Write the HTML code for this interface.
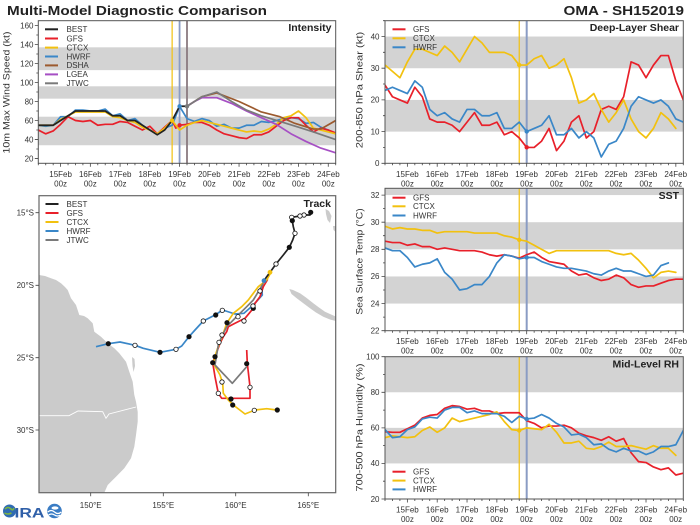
<!DOCTYPE html>
<html><head><meta charset="utf-8"><style>
html,body{margin:0;padding:0;background:#fff;}
svg{display:block;font-family:"Liberation Sans","DejaVu Sans",sans-serif;}
.d polyline{vector-effect:non-scaling-stroke;fill:none;stroke-width:1.7;stroke-linejoin:round;stroke-linecap:round;}
.tk{vector-effect:non-scaling-stroke;stroke:#444;stroke-width:0.8;fill:none;}
.t{font-size:8px;fill:#333;}
.lg{font-size:8px;fill:#333;}
.pt{font-size:10.5px;font-weight:bold;fill:#222;}
.fr{fill:none;stroke:#555;stroke-width:1;}
.band{fill:#d3d3d3;}
</style></head><body>
<svg width="700" height="525" viewBox="0 0 700 525" xmlns="http://www.w3.org/2000/svg">
<defs>
<path id="xt" class="tk" d="M0 0V2M1 0V2M2 0V2M4 0V2M5 0V2M6 0V2M8 0V2M9 0V2M10 0V2M12 0V2M13 0V2M14 0V2M16 0V2M17 0V2M18 0V2M20 0V2M21 0V2M22 0V2M24 0V2M25 0V2M26 0V2M28 0V2M29 0V2M30 0V2M32 0V2M33 0V2M34 0V2M36 0V2M37 0V2M38 0V2M40 0V2M3 0V3.5M7 0V3.5M11 0V3.5M15 0V3.5M19 0V3.5M23 0V3.5M27 0V3.5M31 0V3.5M35 0V3.5M39 0V3.5"/>
</defs>

<!-- Titles -->
<text x="7" y="15" font-size="13" font-weight="bold" fill="#222" textLength="260" lengthAdjust="spacingAndGlyphs">Multi-Model Diagnostic Comparison</text>
<text x="563.5" y="15" font-size="13" font-weight="bold" fill="#222" textLength="120.5" lengthAdjust="spacingAndGlyphs">OMA - SH152019</text>

<!-- ================= INTENSITY ================= -->
<svg class="d" x="38.3" y="20.7" width="297.4" height="142.6" viewBox="0 -165 40 150" preserveAspectRatio="none">
<rect class="band" x="0" y="-64" width="40" height="30"/>
<rect class="band" x="0" y="-96" width="40" height="13"/>
<rect class="band" x="0" y="-137" width="40" height="24"/>
<polyline stroke="#f2c10f" points="18,-165 18,-15" style="stroke-width:1.2"/>
<polyline stroke="#8a9cc4" points="19,-165 19,-15" style="stroke-width:1.8"/>
<polyline stroke="#8a7a80" points="20,-165 20,-15" style="stroke-width:1.8"/>
<polyline stroke="#3a87c8" points="0,-55 1,-54 2,-55 3,-64 4,-64 5,-71 6,-71 7,-70 8,-70 9,-72 10,-65 11,-67 12,-60 13,-62 14,-55 15,-50 16,-46 17,-52 18,-55 19,-75 20,-62 21,-59 22,-62 23,-60 24,-54 25,-56 26,-52 27,-52 28,-55 29,-55 30,-59 31,-58 32,-60 33,-62 34,-63 35,-62 36,-57 37,-58 38,-53 39,-50 40,-46"/>
<polyline stroke="#e8202a" points="0,-50 1,-46 2,-49 3,-56 4,-64 5,-60 6,-59 7,-60 8,-55 9,-56 10,-56 11,-59 12,-58 13,-54 14,-50 15,-54 16,-46 17,-53 18,-60 18.5,-52 19,-55 20,-56 21,-58 22,-58 23,-55 24,-50 25,-46 26,-44 27,-42 28,-41 29,-45 30,-45 31,-48 32,-54 33,-60 34,-63 35,-63 36,-55 37,-48 38,-52 39,-50 40,-47"/>
<polyline stroke="#f2c10f" points="0,-55 1,-55 2,-55 3,-61 4,-65 5,-69 6,-69 7,-69 8,-69 9,-69 10,-64 11,-63 12,-60 13,-58 14,-53 15,-50 16,-46 17,-52 18,-60 19,-50 20,-55 21,-58 22,-60 23,-58 24,-56 25,-54 26,-52 27,-50 28,-48 29,-49 30,-48 31,-51 32,-56 33,-63 34,-65 35,-70 36,-63 37,-52 38,-50 39,-48 40,-46"/>
<polyline stroke="#9c5a2e" points="20,-75 21,-80 22,-85 23,-87 24,-89 27,-80 30,-69 32.5,-64 34.5,-57 37,-51 38,-51 40,-60"/>
<polyline stroke="#a64fc4" points="20,-75 21,-80 22,-84 24,-84 26,-78 28,-70 30,-63 32,-56 34,-46 36,-38 38,-31 40,-26"/>
<polyline stroke="#7a7a7a" points="20,-75 21,-80 22,-85 23,-87.5 24,-90 26,-80 28,-71 30,-65 32.5,-59 35,-53 37,-48 40,-40"/>
<polyline stroke="#222" points="0,-55 1,-55 2,-55 3,-60 4,-65 5,-70 6,-70 7,-70 8,-70 9,-70 10,-65 11,-65 12,-60 13,-60 14,-55 15,-50 16,-45 17,-50 18,-60 19,-75 20,-75"/>
</svg>
<circle cx="172.1" cy="120.5" r="2.2" fill="#f2c10f"/>
<circle cx="179.6" cy="125.3" r="2.2" fill="#e8202a"/>
<circle cx="179.6" cy="106.3" r="2.2" fill="#3a87c8"/>
<circle cx="187" cy="106.3" r="2.2" fill="#7a7a7a"/>
<rect class="fr" x="38.3" y="20.7" width="297.4" height="142.6"/>
<svg x="38.3" y="163.3" width="297.4" height="4" viewBox="0 0 40 4" preserveAspectRatio="none" overflow="visible"><use href="#xt"/></svg>
<path class="tk" d="M38.3 158.55h-3.5M38.3 139.54h-3.5M38.3 120.52h-3.5M38.3 101.5h-3.5M38.3 82.5h-3.5M38.3 63.5h-3.5M38.3 44.5h-3.5M38.3 25.5h-3.5M38.3 149h-2M38.3 130h-2M38.3 111h-2M38.3 92h-2M38.3 73h-2M38.3 54h-2M38.3 35h-2"/>
<g class="t" text-anchor="end">
<text x="33.5" y="161.3">20</text><text x="33.5" y="142.3">40</text><text x="33.5" y="123.3">60</text><text x="33.5" y="104.3">80</text><text x="33.5" y="85.3">100</text><text x="33.5" y="66.3">120</text><text x="33.5" y="47.3">140</text><text x="33.5" y="28.3">160</text>
</g>
<g class="t" text-anchor="middle">
<text x="60.6" y="177">15Feb</text><text x="90.3" y="177">16Feb</text><text x="120.1" y="177">17Feb</text><text x="149.8" y="177">18Feb</text><text x="179.6" y="177">19Feb</text><text x="209.3" y="177">20Feb</text><text x="239.1" y="177">21Feb</text><text x="268.8" y="177">22Feb</text><text x="298.5" y="177">23Feb</text><text x="328.3" y="177">24Feb</text>
<text x="60.6" y="186.5">00z</text><text x="90.3" y="186.5">00z</text><text x="120.1" y="186.5">00z</text><text x="149.8" y="186.5">00z</text><text x="179.6" y="186.5">00z</text><text x="209.3" y="186.5">00z</text><text x="239.1" y="186.5">00z</text><text x="268.8" y="186.5">00z</text><text x="298.5" y="186.5">00z</text><text x="328.3" y="186.5">00z</text>
</g>
<text transform="translate(9.5,92.5) rotate(-90)" text-anchor="middle" font-size="9" fill="#333" textLength="122" lengthAdjust="spacingAndGlyphs">10m Max Wind Speed (kt)</text>
<text x="331.5" y="31" class="pt" text-anchor="end">Intensity</text>
<g stroke-width="2">
<line x1="45" y1="29.3" x2="58" y2="29.3" stroke="#222"/>
<line x1="45" y1="38.5" x2="58" y2="38.5" stroke="#e8202a"/>
<line x1="45" y1="47.6" x2="58" y2="47.6" stroke="#f2c10f"/>
<line x1="45" y1="56.5" x2="58" y2="56.5" stroke="#3a87c8"/>
<line x1="45" y1="65.4" x2="58" y2="65.4" stroke="#9c5a2e"/>
<line x1="45" y1="74.4" x2="58" y2="74.4" stroke="#a64fc4"/>
<line x1="45" y1="83.3" x2="58" y2="83.3" stroke="#7a7a7a"/>
</g>
<g class="lg">
<text x="66.5" y="32.1">BEST</text><text x="66.5" y="41.3">GFS</text><text x="66.5" y="50.4">CTCX</text><text x="66.5" y="59.3">HWRF</text><text x="66.5" y="68.2">DSHA</text><text x="66.5" y="77.2">LGEA</text><text x="66.5" y="86.1">JTWC</text>
</g>

<!-- ================= SHEAR ================= -->
<svg class="d" x="385" y="20.7" width="298.3" height="142.6" viewBox="0 -45 40 45" preserveAspectRatio="none">
<rect class="band" x="0" y="-20" width="40" height="10"/>
<rect class="band" x="0" y="-40" width="40" height="10"/>
<polyline stroke="#f2c10f" points="18,-45 18,0" style="stroke-width:1.2"/>
<polyline stroke="#8a9cc4" points="19,-45 19,0" style="stroke-width:2"/>
<polyline stroke="#e8202a" points="0,-24.7 1,-21 2,-20 3,-19 4,-24 5,-21 6,-14 7,-13 8,-13 9,-12 10,-10 11,-13 12,-16 13,-12 14,-12 15,-13 16,-9 17,-10 18,-8 19,-5 20,-5 21,-7 22,-11 23,-4 24,-7 25,-13 26,-15 27,-8 28,-10 29,-17 30,-18 31,-17 32,-21 33,-32 34,-31 35,-27 36,-31 37,-34 38,-34 39,-26 40,-20"/>
<polyline stroke="#f2c10f" points="0,-31 1,-29 2,-27 3,-32 4,-36 5,-36 6,-35 7,-34 8,-37 9,-35 10,-32 11,-36 12,-40 13,-38 14,-35 15,-35 16,-35 17,-34 18,-31 19,-31 20,-33 21,-34 22,-30 23,-31 24,-33 25,-27 26,-19 27,-20 28,-22 29,-17 30,-13 31,-16 32,-20 33,-14 34,-10 35,-8 36,-11 37,-16 38,-14 39,-11"/>
<polyline stroke="#3a87c8" points="0,-23 1,-24 2,-23 3,-22 4,-26 5,-24 6,-17 7,-15 8,-16 9,-14 10,-13 11,-17 12,-17 13,-15 14,-15 15,-16 16,-11 17,-11 18,-13 19,-10 20,-11 21,-12 22,-15 23,-9 24,-9 25,-11 26,-8 27,-10 28,-8 29,-2 30,-6 31,-7 32,-11 33,-18 34,-21 35,-20 36,-19 37,-20 38,-18 39,-14 40,-13"/>
</svg>
<circle cx="519.2" cy="65" r="2.2" fill="#f2c10f"/>
<circle cx="526.7" cy="147.3" r="2.2" fill="#e8202a"/>
<circle cx="526.7" cy="131.5" r="2.2" fill="#3a87c8"/>
<rect class="fr" x="385" y="20.7" width="298.3" height="142.6"/>
<svg x="385" y="163.3" width="298.3" height="4" viewBox="0 0 40 4" preserveAspectRatio="none" overflow="visible"><use href="#xt"/></svg>
<path class="tk" d="M385 163.3h-3.5M385 131.6h-3.5M385 99.9h-3.5M385 68.2h-3.5M385 36.5h-3.5M385 147.4h-2M385 115.7h-2M385 84h-2M385 52.3h-2M385 20.7h-2"/>
<g class="t" text-anchor="end">
<text x="379.5" y="166.1">0</text><text x="379.5" y="134.4">10</text><text x="379.5" y="102.7">20</text><text x="379.5" y="71">30</text><text x="379.5" y="39.3">40</text>
</g>
<g class="t" text-anchor="middle">
<text x="407.4" y="177">15Feb</text><text x="437.2" y="177">16Feb</text><text x="467" y="177">17Feb</text><text x="496.8" y="177">18Feb</text><text x="526.6" y="177">19Feb</text><text x="556.5" y="177">20Feb</text><text x="586.3" y="177">21Feb</text><text x="616.1" y="177">22Feb</text><text x="645.9" y="177">23Feb</text><text x="675.7" y="177">24Feb</text>
<text x="407.4" y="186.5">00z</text><text x="437.2" y="186.5">00z</text><text x="467" y="186.5">00z</text><text x="496.8" y="186.5">00z</text><text x="526.6" y="186.5">00z</text><text x="556.5" y="186.5">00z</text><text x="586.3" y="186.5">00z</text><text x="616.1" y="186.5">00z</text><text x="645.9" y="186.5">00z</text><text x="675.7" y="186.5">00z</text>
</g>
<text transform="translate(362.5,90) rotate(-90)" text-anchor="middle" font-size="9" fill="#333" textLength="116.5" lengthAdjust="spacingAndGlyphs">200-850 hPa Shear (kt)</text>
<text x="679" y="31" class="pt" text-anchor="end">Deep-Layer Shear</text>
<g stroke-width="2">
<line x1="392.5" y1="29.3" x2="405.5" y2="29.3" stroke="#e8202a"/>
<line x1="392.5" y1="38.3" x2="405.5" y2="38.3" stroke="#f2c10f"/>
<line x1="392.5" y1="47.3" x2="405.5" y2="47.3" stroke="#3a87c8"/>
</g>
<g class="lg"><text x="413" y="32.1">GFS</text><text x="413" y="41.1">CTCX</text><text x="413" y="50.1">HWRF</text></g>

<!-- ================= SST ================= -->
<svg class="d" x="385" y="188.3" width="298.3" height="142.4" viewBox="0 -32.5 40 10.5" preserveAspectRatio="none">
<rect class="band" x="0" y="-26" width="40" height="2"/>
<rect class="band" x="0" y="-30" width="40" height="2"/>
<rect class="band" x="0" y="-34" width="40" height="2"/>
<polyline stroke="#f2c10f" points="18,-33 18,-22" style="stroke-width:1.2"/>
<polyline stroke="#8a9cc4" points="19,-33 19,-22" style="stroke-width:2"/>
<polyline stroke="#e8202a" points="0,-28.6 1,-28.5 2,-28.5 3,-28.3 4,-28.4 5,-28.2 6,-28.2 7,-28 8,-28.1 9,-28 10,-27.9 11,-27.9 12,-27.9 13,-27.8 14,-27.6 15,-27.5 16,-27.6 17,-27.5 18,-27.35 19,-27.6 20,-27.8 21,-27.4 22,-27.1 23,-27 24,-26.9 25,-26.4 26,-26.1 27,-26.2 28,-25.9 29,-25.7 30,-25.8 31,-26.1 32,-25.9 33,-25.4 34,-25.2 35,-25.3 36,-25.3 37,-25.5 38,-25.7 39,-25.8 40,-25.8"/>
<polyline stroke="#f2c10f" points="0,-29.7 1,-29.5 2,-29.6 3,-29.5 4,-29.5 5,-29.4 6,-29.4 7,-29.2 8,-29.3 9,-29.3 10,-29.3 11,-29.3 12,-29.2 13,-29.2 14,-29.2 15,-29.2 16,-29 17,-28.9 18,-28.7 19,-28.6 20,-28.3 21,-28 22,-27.7 23,-27.9 24,-27.9 25,-27.9 26,-27.9 27,-27.9 28,-27.9 29,-27.9 30,-27.9 31,-27.7 32,-27.6 33,-27.7 34,-27.2 35,-26.6 36,-25.9 37,-26.3 38,-26.4 39,-26.3"/>
<polyline stroke="#3a87c8" points="0,-28.1 1,-27.9 2,-27.9 3,-27.4 4,-26.7 5,-26.9 6,-27 7,-27.3 8,-26.3 9,-25.8 10,-25 11,-25.1 12,-25.4 13,-25.4 14,-26 15,-27 16,-27.6 17,-27.5 18,-27.3 19,-27.4 20,-27.4 21,-27.1 22,-26.9 23,-26.7 24,-26.6 25,-26.6 26,-26.5 27,-26.4 28,-26.2 29,-26.1 30,-26.4 31,-26.6 32,-26.4 33,-26.4 34,-26.2 35,-26 36,-26.1 37,-26.8 38,-27"/>
</svg>
<circle cx="519.2" cy="239.8" r="2.2" fill="#f2c10f"/>
<circle cx="526.7" cy="257.5" r="2.2" fill="#3a87c8"/>
<rect class="fr" x="385" y="188.3" width="298.3" height="142.4"/>
<svg x="385" y="330.7" width="298.3" height="4" viewBox="0 0 40 4" preserveAspectRatio="none" overflow="visible"><use href="#xt"/></svg>
<path class="tk" d="M385 330.7h-3.5M385 303.6h-3.5M385 276.4h-3.5M385 249.3h-3.5M385 222.2h-3.5M385 195.1h-3.5M385 317.1h-2M385 290h-2M385 262.9h-2M385 235.7h-2M385 208.6h-2"/>
<g class="t" text-anchor="end">
<text x="379.5" y="333.5">22</text><text x="379.5" y="306.4">24</text><text x="379.5" y="279.2">26</text><text x="379.5" y="252.1">28</text><text x="379.5" y="225">30</text><text x="379.5" y="197.9">32</text>
</g>
<g class="t" text-anchor="middle">
<text x="407.4" y="343.8">15Feb</text><text x="437.2" y="343.8">16Feb</text><text x="467" y="343.8">17Feb</text><text x="496.8" y="343.8">18Feb</text><text x="526.6" y="343.8">19Feb</text><text x="556.5" y="343.8">20Feb</text><text x="586.3" y="343.8">21Feb</text><text x="616.1" y="343.8">22Feb</text><text x="645.9" y="343.8">23Feb</text><text x="675.7" y="343.8">24Feb</text>
<text x="407.4" y="353.5">00z</text><text x="437.2" y="353.5">00z</text><text x="467" y="353.5">00z</text><text x="496.8" y="353.5">00z</text><text x="526.6" y="353.5">00z</text><text x="556.5" y="353.5">00z</text><text x="586.3" y="353.5">00z</text><text x="616.1" y="353.5">00z</text><text x="645.9" y="353.5">00z</text><text x="675.7" y="353.5">00z</text>
</g>
<text transform="translate(362.5,261.5) rotate(-90)" text-anchor="middle" font-size="9" fill="#333" textLength="106.5" lengthAdjust="spacingAndGlyphs">Sea Surface Temp (°C)</text>
<text x="679" y="199" class="pt" text-anchor="end">SST</text>
<g stroke-width="2">
<line x1="392.5" y1="197.7" x2="405.5" y2="197.7" stroke="#e8202a"/>
<line x1="392.5" y1="206.3" x2="405.5" y2="206.3" stroke="#f2c10f"/>
<line x1="392.5" y1="215.5" x2="405.5" y2="215.5" stroke="#3a87c8"/>
</g>
<g class="lg"><text x="413" y="200.5">GFS</text><text x="413" y="209.1">CTCX</text><text x="413" y="218.3">HWRF</text></g>

<!-- ================= RH ================= -->
<svg class="d" x="385" y="356.7" width="298.3" height="142.3" viewBox="0 -100 40 80" preserveAspectRatio="none">
<rect class="band" x="0" y="-60" width="40" height="20"/>
<rect class="band" x="0" y="-100" width="40" height="20"/>
<polyline stroke="#f2c10f" points="18,-100 18,-20" style="stroke-width:1.2"/>
<polyline stroke="#8a9cc4" points="19,-100 19,-20" style="stroke-width:2"/>
<polyline stroke="#e8202a" points="0,-57.8 1,-57.5 2,-57.5 3,-59.5 4,-61.5 5,-65.5 6,-67 7,-67.5 8,-71 9,-72.5 10,-72 11,-70.5 12,-71 13,-69.5 14,-69.5 15,-68 16,-68.5 17,-68.5 18,-68.5 19,-64 20,-62.5 21,-60 22,-61 23,-61 24,-61.5 25,-60 26,-57 27,-55.5 28,-54.5 29,-53 30,-55 31,-52.5 32,-54 33,-46 34,-41 35,-40.5 36,-38 37,-36.5 38,-37.5 39,-33.5 40,-34.5"/>
<polyline stroke="#f2c10f" points="0,-54.5 1,-55.5 2,-55 3,-54.5 4,-55 5,-58.5 6,-60.5 7,-57.5 8,-60 9,-65.5 10,-63.5 11,-64.5 12,-65.5 13,-66.5 14,-67.5 15,-69 16,-63.5 17,-59 18,-58.5 19,-60 20,-59.5 21,-59 22,-62 23,-57.5 24,-51.5 25,-51.5 26,-52.5 27,-48.5 28,-48 29,-49.5 30,-52 31,-49.5 32,-49.5 33,-50 34,-49 35,-48 36,-50 37,-48.5 38,-48.5 39,-44.5"/>
<polyline stroke="#3a87c8" points="0,-59 1,-54.5 2,-55 3,-59 4,-60.5 5,-65 6,-66 7,-65.5 8,-70 9,-71.5 10,-71.5 11,-68.5 12,-69.5 13,-68 14,-68 15,-68 16,-66.5 17,-63 18,-66.5 19,-65 20,-65.5 21,-67.5 22,-65.5 23,-62.5 24,-60.5 25,-56 26,-56.5 27,-54.5 28,-50.5 29,-51 30,-48 31,-46.5 32,-48.5 33,-47 34,-47 35,-45 36,-46.5 37,-49.5 38,-49.5 39,-50.5 40,-58.5"/>
</svg>
<circle cx="519.2" cy="430.5" r="2.2" fill="#f2c10f"/>
<circle cx="526.7" cy="419" r="2.2" fill="#3a87c8"/>
<rect class="fr" x="385" y="356.7" width="298.3" height="142.3"/>
<svg x="385" y="499" width="298.3" height="4" viewBox="0 0 40 4" preserveAspectRatio="none" overflow="visible"><use href="#xt"/></svg>
<path class="tk" d="M385 499h-3.5M385 463.4h-3.5M385 427.9h-3.5M385 392.3h-3.5M385 356.7h-3.5M385 481.2h-2M385 445.6h-2M385 410.1h-2M385 374.5h-2"/>
<g class="t" text-anchor="end">
<text x="379.5" y="501.8">20</text><text x="379.5" y="466.2">40</text><text x="379.5" y="430.7">60</text><text x="379.5" y="395.1">80</text><text x="379.5" y="359.5">100</text>
</g>
<g class="t" text-anchor="middle">
<text x="407.4" y="512.3">15Feb</text><text x="437.2" y="512.3">16Feb</text><text x="467" y="512.3">17Feb</text><text x="496.8" y="512.3">18Feb</text><text x="526.6" y="512.3">19Feb</text><text x="556.5" y="512.3">20Feb</text><text x="586.3" y="512.3">21Feb</text><text x="616.1" y="512.3">22Feb</text><text x="645.9" y="512.3">23Feb</text><text x="675.7" y="512.3">24Feb</text>
<text x="407.4" y="522">00z</text><text x="437.2" y="522">00z</text><text x="467" y="522">00z</text><text x="496.8" y="522">00z</text><text x="526.6" y="522">00z</text><text x="556.5" y="522">00z</text><text x="586.3" y="522">00z</text><text x="616.1" y="522">00z</text><text x="645.9" y="522">00z</text><text x="675.7" y="522">00z</text>
</g>
<text transform="translate(362.5,427.5) rotate(-90)" text-anchor="middle" font-size="9" fill="#333" textLength="128" lengthAdjust="spacingAndGlyphs">700-500 hPa Humidity (%)</text>
<text x="679" y="367.5" class="pt" text-anchor="end">Mid-Level RH</text>
<g stroke-width="2">
<line x1="392.5" y1="471.7" x2="405.5" y2="471.7" stroke="#e8202a"/>
<line x1="392.5" y1="480.6" x2="405.5" y2="480.6" stroke="#f2c10f"/>
<line x1="392.5" y1="489.4" x2="405.5" y2="489.4" stroke="#3a87c8"/>
</g>
<g class="lg"><text x="413" y="474.5">GFS</text><text x="413" y="483.4">CTCX</text><text x="413" y="492.2">HWRF</text></g>

<!-- ================= TRACK ================= -->
<svg x="39" y="195.7" width="296.7" height="297" viewBox="39 195.7 296.7 297">
<polygon fill="#cbcbcb" points="39,275 45,276 51,278.3 56,280 61,283.3 65,287 67.7,290 71,298.3 76,305 79.3,315 84,316 87.7,318.3 92.7,323.3 94.3,331.7 101,336.7 107.7,343.3 114.3,348.3 119.3,353.3 126,361.7 129.3,371.7 132.7,381.7 134.3,395 136,401.7 137.7,411.7 137.7,421.7 136,435 134.3,446.7 131,458.3 124.3,468.3 116,476.7 107.7,485 104.3,492.7 39,492.7"/>
<polygon fill="#cbcbcb" points="132,357 134.5,359 135,366 133.5,372 132.5,366"/>
<polyline fill="none" stroke="#fff" stroke-width="0.9" points="39,415.7 69,415.7 78,411 102.7,411.7 106,418.3 109,414 136,407"/>
<polygon fill="#cbcbcb" points="289.3,289 293,290 300,293.3 306,297.5 313.3,303.3 319,307.5 325,311.7 330,314 335.7,316.5 335.7,321 330,319.5 323.3,316.7 316,312.5 310,308.3 303,303 296.7,298.3 291.5,294"/>
<polygon fill="#cbcbcb" points="325.5,209 329,211 331.5,216 330,223 327.5,220 326,214"/>
<polygon fill="#cbcbcb" points="333,226 335.7,226 335.7,232 333.5,230"/>
</svg>
<g fill="none" stroke-width="1.7" stroke-linejoin="round">
<polyline stroke="#3a87c8" points="264,280.7 261.7,286.7 262.3,295 253.3,305 244,313.3 235,314 222.7,310 215,315 203.3,321 195,330 189,336.7 181.7,346 176,349.3 160,352.3 143.3,348.3 135,345.3 120,342 108.3,343.7 96,346.7"/>
<polyline stroke="#e8202a" points="267.7,279.3 263.3,286.7 260,296.7 255,303.3 253.3,308.3 245,318.3 235,323.3 228.3,326.7 226.7,331.7 223.3,336.7 220,343.3 215,356.7 212.7,362.7 215,376.7 218.3,393.3 221.7,398.3 250,398.3 250,386.7 247.3,363.3 246.7,350"/>
<polyline stroke="#f2c10f" points="270.7,272.7 266.7,280 258.3,286.7 253.3,293.3 248.3,300 241.7,306.7 233.3,313.3 226.7,323.3 223.3,333.3 219.3,343.3 216,353.3 213.3,363.3 220,375 222.7,383.3 223.3,393.3 228.3,400 233.3,405 245,414 255,410 266.7,408.7 276.7,410"/>
<polyline stroke="#7a7a7a" points="263.3,283.3 258.3,291.7 253.3,300 246.7,306.7 240,313.3 233.3,320 226.7,326.7 221.7,336.7 218.3,345 215,365 232.3,383.3 246.7,366.7"/>
<polyline stroke="#222" points="310.7,212.3 310,215 304,215 300,216 291.7,217.3 292.3,220.7 293.3,226.7 295,233.3 292.7,240 289.3,247.3 283.3,255 276,264 271.7,270 266.7,276.7 263.3,281.7"/>
</g>
<g stroke="#111" stroke-width="0.8">
<circle cx="310.7" cy="212.3" r="2.2" fill="#111"/>
<circle cx="304" cy="215" r="2.2" fill="#fff"/>
<circle cx="300" cy="216" r="2.2" fill="#fff"/>
<circle cx="291.7" cy="217.3" r="2.2" fill="#fff"/>
<circle cx="292.3" cy="220.7" r="2.2" fill="#111"/>
<circle cx="295" cy="233.3" r="2.2" fill="#fff"/>
<circle cx="289.3" cy="247.3" r="2.2" fill="#111"/>
<circle cx="276" cy="264" r="2.2" fill="#fff"/>
<circle cx="215.7" cy="315" r="2.2" fill="#111"/>
<circle cx="222.3" cy="310.3" r="2.2" fill="#fff"/>
<circle cx="203.3" cy="321" r="2.2" fill="#fff"/>
<circle cx="189" cy="336.7" r="2.2" fill="#111"/>
<circle cx="176" cy="349.3" r="2.2" fill="#fff"/>
<circle cx="160" cy="352.3" r="2.2" fill="#111"/>
<circle cx="135" cy="345.3" r="2.2" fill="#fff"/>
<circle cx="108.3" cy="343.7" r="2.2" fill="#111"/>
<circle cx="253.3" cy="308.3" r="2.2" fill="#111"/>
<circle cx="244" cy="321" r="2.2" fill="#fff"/>
<circle cx="227" cy="322.7" r="2.2" fill="#111"/>
<circle cx="215" cy="356.7" r="2.2" fill="#111"/>
<circle cx="212.7" cy="362.7" r="2.2" fill="#111"/>
<circle cx="218.3" cy="393.3" r="2.2" fill="#fff"/>
<circle cx="231" cy="399" r="2.2" fill="#111"/>
<circle cx="246.7" cy="363.7" r="2.2" fill="#111"/>
<circle cx="250" cy="387.3" r="2.2" fill="#fff"/>
<circle cx="222" cy="382" r="2.2" fill="#fff"/>
<circle cx="232.7" cy="405" r="2.2" fill="#111"/>
<circle cx="254.3" cy="410.3" r="2.2" fill="#fff"/>
<circle cx="277.3" cy="410" r="2.2" fill="#111"/>
<circle cx="260" cy="291" r="2.2" fill="#fff"/>
<circle cx="238" cy="316.7" r="2.2" fill="#fff"/>
<circle cx="222" cy="335" r="2.2" fill="#fff"/>
<circle cx="219" cy="342.3" r="2.2" fill="#fff"/>
<circle cx="253" cy="306" r="2.2" fill="#fff"/>
</g>
<circle cx="270" cy="272.3" r="2.4" fill="#f2c10f"/>
<circle cx="264" cy="280.7" r="2.4" fill="#3a87c8"/>
<rect x="39" y="195.7" width="296.7" height="297" fill="none" stroke="#666" stroke-width="1.2"/>
<path class="tk" d="M39 212.7h-3.5M39 285.3h-3.5M39 357.7h-3.5M39 430h-3.5M90.7 492.7v3.5M163.3 492.7v3.5M235.7 492.7v3.5M308.3 492.7v3.5"/>
<g class="t" text-anchor="end">
<text x="34" y="215.5">15°S</text><text x="34" y="288.1">20°S</text><text x="34" y="360.5">25°S</text><text x="34" y="432.8">30°S</text>
</g>
<g class="t" text-anchor="middle">
<text x="90.7" y="508">150°E</text><text x="163.3" y="508">155°E</text><text x="235.7" y="508">160°E</text><text x="308.3" y="508">165°E</text>
</g>
<text x="331" y="207" class="pt" text-anchor="end">Track</text>
<g stroke-width="2">
<line x1="45.5" y1="204" x2="58.5" y2="204" stroke="#222"/>
<line x1="45.5" y1="213" x2="58.5" y2="213" stroke="#e8202a"/>
<line x1="45.5" y1="222" x2="58.5" y2="222" stroke="#f2c10f"/>
<line x1="45.5" y1="231" x2="58.5" y2="231" stroke="#3a87c8"/>
<line x1="45.5" y1="240" x2="58.5" y2="240" stroke="#7a7a7a"/>
</g>
<g class="lg"><text x="66.5" y="206.8">BEST</text><text x="66.5" y="215.8">GFS</text><text x="66.5" y="224.8">CTCX</text><text x="66.5" y="233.8">HWRF</text><text x="66.5" y="242.8">JTWC</text></g>

<!-- Logo -->
<circle cx="9.5" cy="511" r="6.5" fill="#2f6bb3"/>
<path d="M5 509 q3 -3 6 0 q2 2 3 -1 M4.5 513 q3 2 7 0" stroke="#7cb342" stroke-width="1.6" fill="none"/>
<text x="14.5" y="517.5" font-size="14" font-weight="bold" fill="#2f5fa8" textLength="30" lengthAdjust="spacingAndGlyphs">IRA</text>
<circle cx="54.5" cy="511" r="7.3" fill="#3a7cc4"/>
<path d="M47.8 512 q3.3 -3 6.7 0 t6.7 0 M48.5 515 q3 -2 6 0 t6 0" stroke="#fff" stroke-width="1.2" fill="none"/>
<ellipse cx="55" cy="508" rx="3.5" ry="1.6" fill="#fff"/>
</svg>
</body></html>
